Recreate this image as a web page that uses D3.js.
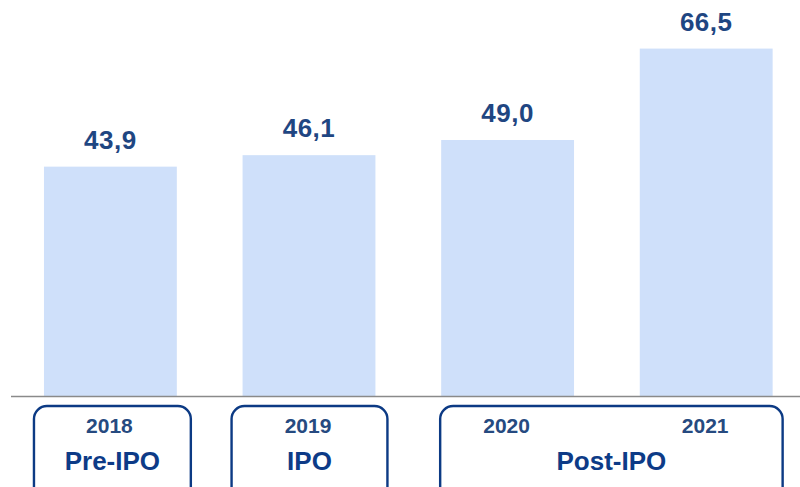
<!DOCTYPE html>
<html>
<head>
<meta charset="utf-8">
<script src="https://cdn.jsdelivr.net/npm/d3@7"></script>
<style>
  body { margin: 0; background: #fff; }
  svg { display: block; }
</style>
</head>
<body>
<div id="chart"></div>
<script>
// data
const years = ["2018", "2019", "2020", "2021"];
const values = [43.9, 46.1, 49.0, 66.5];
const phases = ["Pre-IPO", "IPO", "Post-IPO"];
const phaseYears = [["2018"], ["2019"], ["2020", "2021"]];

const width = 800, height = 487;
const baseY = 396;
const fmt = v => v.toFixed(1).replace(".", ",");

const svg = d3.select("#chart").append("svg")
    .attr("width", width)
    .attr("height", height);

let x = d3.scaleBand()
    .domain(years)
    .range([11, 805.6])
    .paddingInner(0.331)
    .paddingOuter(0.166);

let y = d3.scaleLinear()
    .domain([0, 75.8])
    .range([baseY, 0]);

let rows = years.map((yr, i) => ({year: yr, value: values[i]}));

// bars
svg.selectAll(".bar")
    .data(rows)
    .enter().append("rect")
    .attr("class", "bar")
    .attr("x", d => x(d.year))
    .attr("y", d => y(d.value))
    .attr("width", x.bandwidth())
    .attr("height", d => y(0) - y(d.value))
    .style("fill", "#cfe0fa");

// value labels
svg.selectAll(".val")
    .data(rows)
    .enter().append("text")
    .attr("class", "val")
    .attr("x", d => x(d.year) + x.bandwidth() / 2)
    .attr("y", d => y(d.value) - 18)
    .style("font", "bold 26px 'Liberation Sans', Arial, sans-serif")
    .style("letter-spacing", "0.5px")
    .style("fill", "#1f4682")
    .style("text-anchor", "middle")
    .text(d => fmt(d.value));

// baseline
svg.append("line")
    .attr("x1", 11)
    .attr("x2", width)
    .attr("y1", y(0) + 0.5)
    .attr("y2", y(0) + 0.5)
    .style("stroke", "#8a8a8a")
    .style("stroke-width", 1.6);

// phase boxes (left / right inset around the bars of each group)
const boxInset = [[-10, 14], [-11, 12], [-1, 10]];
let groups = svg.selectAll(".phase")
    .data(phases)
    .enter().append("g")
    .attr("class", "phase");

groups.append("rect")
    .attr("x", (d, i) => x(phaseYears[i][0]) + boxInset[i][0])
    .attr("y", 406)
    .attr("width", (d, i) => {
        let last = phaseYears[i][phaseYears[i].length - 1];
        return x(last) + x.bandwidth() + boxInset[i][1] - x(phaseYears[i][0]) - boxInset[i][0];
    })
    .attr("height", 110)
    .attr("rx", 13)
    .style("fill", "none")
    .style("stroke", "#0c3a84")
    .style("stroke-width", 2.4);

groups.append("text")
    .attr("x", (d, i) => {
        let last = phaseYears[i][phaseYears[i].length - 1];
        let l = x(phaseYears[i][0]) + boxInset[i][0];
        let r = x(last) + x.bandwidth() + boxInset[i][1];
        return (l + r) / 2;
    })
    .attr("y", 470)
    .style("font", "bold 26px 'Liberation Sans', Arial, sans-serif")
    .style("fill", "#0d3b87")
    .style("text-anchor", "middle")
    .text(d => d);

// year labels
svg.selectAll(".year")
    .data(years)
    .enter().append("text")
    .attr("class", "year")
    .attr("x", d => x(d) + x.bandwidth() / 2 - 1)
    .attr("y", 433)
    .style("font", "bold 21px 'Liberation Sans', Arial, sans-serif")
    .style("fill", "#264a80")
    .style("text-anchor", "middle")
    .text(d => d);
</script>
</body>
</html>
